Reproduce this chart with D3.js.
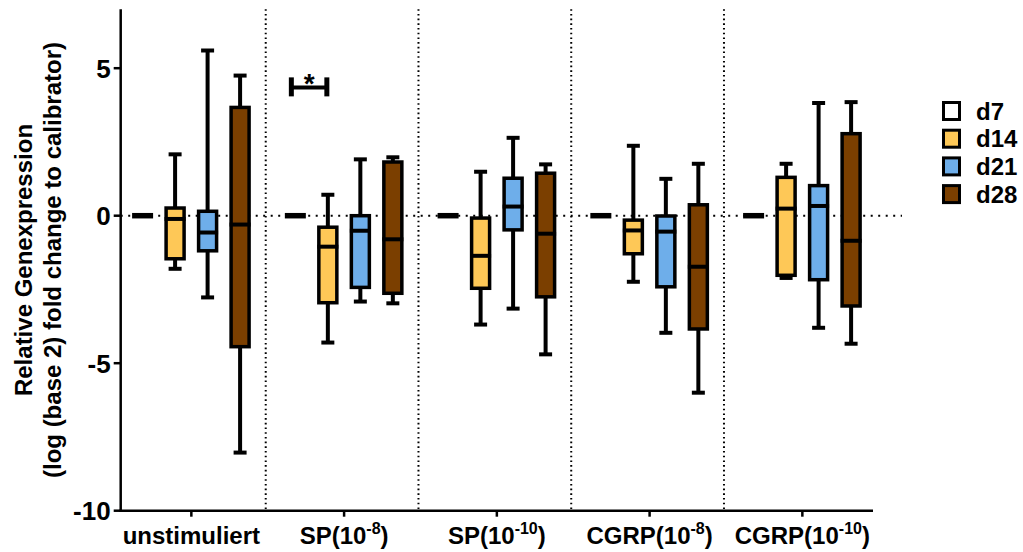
<!DOCTYPE html>
<html>
<head>
<meta charset="utf-8">
<script src="https://cdn.jsdelivr.net/npm/d3@7"></script>
<style>
  html, body { margin: 0; padding: 0; background: #fff; }
  svg { display: block; font-family: "Liberation Sans", Arial, sans-serif; font-weight: bold; }
</style>
</head>
<body>
<svg id="chart" width="1023" height="552"></svg>
<script>
// ---- data ----
const categories = ["unstimuliert", "SP(10^-8)", "SP(10^-10)", "CGRP(10^-8)", "CGRP(10^-10)"];
const seriesNames = ["d7", "d14", "d21", "d28"];
const seriesColors = ["#ffffff", "#fec857", "#6eaeea", "#7b3f00"];
const yTicks = [5, 0, -5, -10];
// each entry: [min, q1, median, q3, max] per category
const d7 = [
  [0, 0, 0, 0, 0], [0, 0, 0, 0, 0], [0, 0, 0, 0, 0], [0, 0, 0, 0, 0], [0, 0, 0, 0, 0]
];
const d14 = [
  [-1.80, -1.46, -0.11, 0.26, 2.08],
  [-4.30, -2.95, -1.05, -0.39, 0.71],
  [-3.69, -2.46, -1.36, -0.08, 1.49],
  [-2.24, -1.29, -0.50, -0.15, 2.37],
  [-2.11, -2.02, 0.24, 1.30, 1.76]
];
const d21 = [
  [-2.77, -1.19, -0.57, 0.15, 5.60],
  [-2.91, -2.43, -0.51, 0.00, 1.91],
  [-3.15, -0.48, 0.31, 1.27, 2.64],
  [-3.97, -2.41, -0.54, -0.01, 1.25],
  [-3.80, -2.17, 0.33, 1.02, 3.82]
];
const d28 = [
  [-8.03, -4.44, -0.30, 3.67, 4.75],
  [-2.97, -2.63, -0.80, 1.82, 1.98],
  [-4.70, -2.75, -0.61, 1.44, 1.74],
  [-6.00, -3.84, -1.73, 0.37, 1.76],
  [-4.34, -3.06, -0.85, 2.78, 3.85]
];
const seriesData = [d7, d14, d21, d28];
// significance bracket: category, from series, to series, value, label
const sigCategory = "SP(10^-8)";
const sigFrom = "d7", sigTo = "d14";
const sigValue = 4.35;
const sigLabel = "*";

// ---- layout ----
const svg = d3.select("#chart");
const x0 = 120.7, x1 = 873, yTop = 9.2, yBot = 510.7;
const x = d3.scalePoint().domain(categories).range([x0, x1]).padding(0.4625);
const y = d3.scaleLinear().domain([-10, 7]).range([yBot, yTop]);
const dodge = d3.scalePoint().domain(seriesNames).range([-48.75, 48.75]);
const boxW = 18;

// reference lines
svg.append("line")
  .attr("x1", x0).attr("x2", 902).attr("y1", y(0)).attr("y2", y(0))
  .attr("stroke", "#000").attr("stroke-width", 2).attr("stroke-dasharray", "2,5.5");

const cats = x.domain();
for (let i = 0; i < cats.length - 1; i++) {
  const sx = (x(cats[i]) + x(cats[i + 1])) / 2 - 2;
  svg.append("line")
    .attr("x1", sx).attr("x2", sx).attr("y1", yTop).attr("y2", yBot)
    .attr("stroke", "#000").attr("stroke-width", 2).attr("stroke-dasharray", "1.6,3.1");
}

// boxes
seriesNames.forEach((s, si) => {
  const g = svg.append("g");
  seriesData[si].forEach((v, ci) => {
    const cx = x(categories[ci]) + dodge(s);
    const [mn, q1, md, q3, mx] = v;
    g.append("line").attr("x1", cx).attr("x2", cx).attr("y1", y(mx)).attr("y2", y(q3))
      .attr("stroke", "#000").attr("stroke-width", 4);
    g.append("line").attr("x1", cx).attr("x2", cx).attr("y1", y(q1)).attr("y2", y(mn))
      .attr("stroke", "#000").attr("stroke-width", 4);
    if (mx !== q3) g.append("line").attr("x1", cx - 6.5).attr("x2", cx + 6.5).attr("y1", y(mx)).attr("y2", y(mx))
      .attr("stroke", "#000").attr("stroke-width", 4);
    if (mn !== q1) g.append("line").attr("x1", cx - 6.5).attr("x2", cx + 6.5).attr("y1", y(mn)).attr("y2", y(mn))
      .attr("stroke", "#000").attr("stroke-width", 4);
    g.append("rect")
      .attr("x", cx - boxW / 2).attr("width", boxW)
      .attr("y", y(q3)).attr("height", y(q1) - y(q3))
      .attr("fill", seriesColors[si]).attr("stroke", "#000").attr("stroke-width", 3.5);
    g.append("line").attr("x1", cx - boxW / 2 - 1.5).attr("x2", cx + boxW / 2 + 1.5)
      .attr("y1", y(md)).attr("y2", y(md))
      .attr("stroke", "#000").attr("stroke-width", q1 === q3 ? 5.5 : 4);
  });
});

// significance bracket
{
  const bx1 = x(sigCategory) + dodge(sigFrom) - 4;
  const bx2 = x(sigCategory) + dodge(sigTo) - 1;
  const by = y(sigValue);
  svg.append("line").attr("x1", bx1).attr("x2", bx2).attr("y1", by).attr("y2", by)
    .attr("stroke", "#000").attr("stroke-width", 4);
  [bx1, bx2].forEach(bx => svg.append("line").attr("x1", bx).attr("x2", bx)
    .attr("y1", by - 10).attr("y2", by + 9).attr("stroke", "#000").attr("stroke-width", 5));
  svg.append("text").attr("x", (bx1 + bx2) / 2).attr("y", by + 6)
    .attr("text-anchor", "middle").attr("font-size", 28).text(sigLabel);
}

// axes
const yAxis = svg.append("g");
yAxis.append("line").attr("x1", x0).attr("x2", x0).attr("y1", yTop).attr("y2", yBot + 1.25)
  .attr("stroke", "#000").attr("stroke-width", 2.5);
yTicks.forEach(t => {
  yAxis.append("line").attr("x1", x0 - 7).attr("x2", x0).attr("y1", y(t)).attr("y2", y(t))
    .attr("stroke", "#000").attr("stroke-width", 2.5);
  yAxis.append("text").attr("x", x0 - 10).attr("y", y(t)).attr("dy", "0.36em")
    .attr("text-anchor", "end").attr("font-size", 26).text(t);
});
const xAxis = svg.append("g");
xAxis.append("line").attr("x1", x0 - 1.25).attr("x2", x1).attr("y1", yBot).attr("y2", yBot)
  .attr("stroke", "#000").attr("stroke-width", 2.5);
categories.forEach(c => {
  xAxis.append("line").attr("x1", x(c)).attr("x2", x(c)).attr("y1", yBot).attr("y2", yBot + 6)
    .attr("stroke", "#000").attr("stroke-width", 2.5);
  const t = xAxis.append("text").attr("x", x(c)).attr("y", 544)
    .attr("text-anchor", "middle").attr("font-size", 24);
  const parts = c.split("^");
  if (parts.length === 1) { t.text(c); }
  else {
    const m = parts[1].match(/^([-0-9]+)(.*)$/);
    t.append("tspan").text(parts[0]);
    t.append("tspan").attr("dy", -10).attr("font-size", 16).text(m[1]);
    t.append("tspan").attr("dy", 10).text(m[2]);
  }
});

// y title
const yt = svg.append("text").attr("transform", "translate(0,260) rotate(-90)")
  .attr("text-anchor", "middle").attr("font-size", 24);
yt.append("tspan").attr("x", 0).attr("y", 32).text("Relative Genexpression");
yt.append("tspan").attr("x", 0).attr("y", 61).text("(log (base 2) fold change to calibrator)");

// legend
const legend = svg.append("g");
seriesNames.forEach((s, i) => {
  const cy = 111 + i * 27.7;
  legend.append("rect").attr("x", 943.5).attr("y", cy - 8.5).attr("width", 16).attr("height", 17)
    .attr("fill", seriesColors[i]).attr("stroke", "#000").attr("stroke-width", 3);
  legend.append("text").attr("x", 976).attr("y", cy).attr("dy", "0.36em")
    .attr("font-size", 24).text(s);
});
</script>
</body>
</html>
